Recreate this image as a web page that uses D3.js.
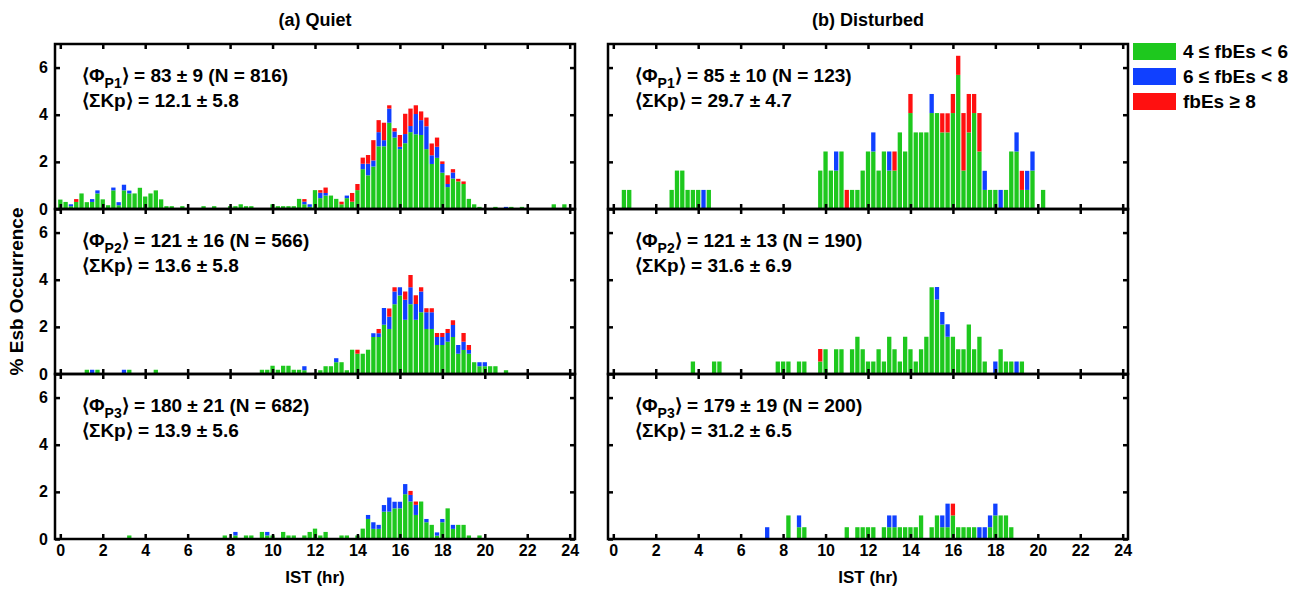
<!DOCTYPE html>
<html>
<head>
<meta charset="utf-8">
<script src="https://cdn.jsdelivr.net/npm/d3@7/dist/d3.min.js"></script>
<style>
  body { margin: 0; background: #fff; }
  text { font-family: "Liberation Sans", Arial, sans-serif; font-weight: bold; fill: #000; }
</style>
</head>
<body>
<svg id="chart" width="1294" height="590"></svg>
<script>
// 15-minute IST bins, % Esb occurrence, stacked by fbEs class
const bins = d3.range(0, 24, 0.25);
const xTickLabels = [0, 2, 4, 6, 8, 10, 12, 14, 16, 18, 20, 22, 24];
const yTickLabels = [0, 2, 4, 6];
const seriesKeys = ['low', 'mid', 'high'];
const legendLabels = ['4 \u2264 fbEs < 6', '6 \u2264 fbEs < 8', 'fbEs \u2265 8'];
const columnTitles = ['(a) Quiet', '(b) Disturbed'];

// Quiet, P1
const quietP1Green = [
  .4,.3,.12,.3,.66,.29,.3,.66,.41,.16,.79,.16,.79,.66,.66,.9,
  .53,.66,.79,.41,.12,.12,0,.12,0,0,0,.12,0,.12,0,0,
  .12,.12,.2,.12,.12,0,0,0,.2,.12,.12,.12,.12,.43,.2,.09,
  .8,.46,.57,.57,.43,.2,.46,.31,.8,1.69,1.43,1.8,2.66,2.66,3.66,3.03,
  2.54,2.79,3.26,3.17,3.14,2.54,1.91,2.17,1.54,.93,1.29,1.17,1.06,.43,.2,.09,
  0,0,.09,0,0,.09,0,.09,0,0,0,0,0,.2,0,.2
];
const quietP1Blue = [
  0,0,.08,0,0,0,.12,.13,0,0,.12,.13,.24,.12,0,0,
  0,0,0,0,0,0,0,0,0,0,0,0,0,0,0,0,
  0,0,0,0,0,0,0,0,0,0,0,0,0,0,.11,.11,
  0,.23,.11,0,0,0,.11,0,0,.23,.49,.26,.6,.26,.6,.26,
  .1,.39,.26,.86,.63,.97,.37,.47,.37,.13,.26,0,0,0,0,0,
  0,0,0,0,.09,0,0,0,0,0,0,0,0,0,0,0
];
const quietP1Red = [
  0,0,0,.12,0,0,0,0,0,0,0,0,0,0,0,0,
  0,0,0,0,0,0,0,0,0,0,0,0,0,0,0,0,
  0,0,0,0,0,0,0,0,0,0,0,0,0,0,.11,0,
  0,.11,.23,0,0,.11,0,.37,.26,.26,.37,.86,.51,.74,.14,.14,
  .5,.86,.74,.37,.37,.37,.5,.39,.11,.37,.14,.11,.11,0,0,0,
  0,0,0,0,0,0,0,0,0,0,0,0,0,0,0,0
];

// Quiet, P2
const quietP2Green = [
  0,0,0,0,0,.18,0,.18,0,0,0,0,0,.18,0,0,
  0,0,.18,0,0,0,0,0,0,0,0,0,0,0,0,0,
  0,0,0,0,0,0,.18,.18,.35,.18,.35,.35,.18,.18,.16,0,
  0,.16,.33,.33,.5,.5,.16,1.03,.86,.86,1.03,1.57,1.57,2.09,1.91,2.96,
  3.33,2.3,2.96,2.3,2.62,1.91,1.91,1.23,1.23,1.37,1.57,.86,1.02,.86,.5,.33,
  .33,.33,.33,0,.16,0,0,0,0,0,0,0,0,0,0,0
];
const quietP2Blue = [
  0,0,0,0,0,0,.18,0,0,0,0,0,.18,0,0,0,
  0,0,0,0,0,0,0,0,0,0,0,0,0,0,0,0,
  0,0,0,0,0,0,0,0,0,0,0,0,0,0,.17,0,
  0,0,0,0,.17,0,0,0,0,0,0,.16,.16,.71,.52,.54,
  .35,.85,.72,.67,.88,.71,.71,.34,.34,.37,.51,.37,.35,.16,0,.17,
  .17,0,0,0,0,0,0,0,0,0,0,0,0,0,0,0
];
const quietP2Red = [
  0,0,0,0,0,0,0,0,0,0,0,0,0,0,0,0,
  0,0,0,0,0,0,0,0,0,0,0,0,0,0,0,0,
  0,0,0,0,0,0,0,0,0,0,0,0,0,0,0,0,
  0,0,0,0,0,0,0,0,.17,0,0,0,.18,0,.35,.18,
  0,.35,.52,.37,.18,.17,.17,.17,.17,.17,.2,0,.37,.21,0,0,
  0,0,0,0,0,0,0,0,0,0,0,0,0,0,0,0
];

// Quiet, P3
const quietP3Green = [
  0,0,0,0,0,0,0,0,0,0,0,0,0,.15,0,0,
  0,0,0,0,0,0,0,0,0,0,0,0,0,0,0,.15,
  0,.15,0,.15,.15,0,.3,.15,.15,0,.3,.15,.15,0,.15,.3,
  .44,.15,.3,0,0,.15,.15,0,.15,.44,.85,.43,.43,1.16,1.16,1.3,
  1.3,1.9,1.59,1.02,1.59,.71,.6,.14,.71,1.3,.43,.6,.6,.15,0,.15,
  0,0,0,0,0,0,0,0,0,0,0,0,0,0,0,0
];
const quietP3Blue = [
  0,0,0,0,0,0,0,0,0,0,0,0,0,0,0,0,
  0,0,0,0,0,0,0,0,0,0,0,0,0,0,0,0,
  0,.15,0,0,0,0,0,.15,0,0,0,0,0,0,0,0,
  0,0,0,0,0,0,0,0,0,0,.17,.28,.17,.28,.6,.28,
  .28,.43,.28,.43,0,.14,0,.14,.14,0,.17,0,0,0,0,0,
  0,0,0,0,0,0,0,0,0,0,0,0,0,0,0,0
];
const quietP3Red = [
  0,0,0,0,0,0,0,0,0,0,0,0,0,0,0,0,
  0,0,0,0,0,0,0,0,0,0,0,0,0,0,0,0,
  0,0,0,0,0,0,0,0,0,0,0,0,0,0,0,0,
  0,0,0,0,0,0,0,0,0,0,0,0,0,0,0,0,
  0,0,.17,.14,0,0,0,0,0,0,0,0,0,0,0,0,
  0,0,0,0,0,0,0,0,0,0,0,0,0,0,0,0
];

// Disturbed, P1
const disturbedP1Green = [
  0,0,.81,.81,0,0,0,0,0,0,0,.81,1.63,1.63,.81,.81,
  .81,0,.81,0,0,0,0,0,0,0,0,0,0,0,0,0,
  0,0,0,0,0,0,0,1.63,2.44,1.63,1.63,2.44,0,.81,.81,1.63,
  2.44,2.44,1.63,2.44,1.63,1.63,3.25,2.44,4.07,3.25,3.25,3.25,4.07,4.07,3.25,3.25,
  4.07,5.69,1.63,3.25,4.07,2.44,.81,.81,.81,0,.81,2.44,2.44,.81,.81,1.63,
  0,.81,0,0,0,0,0,0,0,0,0,0,0,0,0,0
];
const disturbedP1Blue = [
  0,0,0,0,0,0,0,0,0,0,0,0,0,0,0,0,
  0,.81,0,0,0,0,0,0,0,0,0,0,0,0,0,0,
  0,0,0,0,0,0,0,0,0,0,.81,0,0,0,0,0,
  0,.81,0,0,.81,0,0,0,0,0,0,0,.81,0,0,0,
  0,0,0,0,0,0,.81,0,0,.81,0,0,.81,0,.81,.81,
  0,0,0,0,0,0,0,0,0,0,0,0,0,0,0,0
];
const disturbedP1Red = [
  0,0,0,0,0,0,0,0,0,0,0,0,0,0,0,0,
  0,0,0,0,0,0,0,0,0,0,0,0,0,0,0,0,
  0,0,0,0,0,0,0,0,0,0,0,0,.81,0,0,0,
  0,0,0,0,0,.81,0,0,.81,0,0,0,0,0,.81,.81,
  .81,.81,2.44,1.63,.81,1.63,0,0,0,0,0,0,0,.81,0,0,
  0,0,0,0,0,0,0,0,0,0,0,0,0,0,0,0
];

// Disturbed, P2
const disturbedP2Green = [
  0,0,0,0,0,0,0,0,0,0,0,0,0,0,0,.53,
  0,0,0,.53,.53,0,0,0,0,0,0,0,0,0,0,.53,
  .53,.53,0,.53,.53,0,0,.53,1.05,0,1.05,1.05,0,1.05,1.58,1.05,
  .53,.53,1.05,.53,1.58,1.05,.53,1.58,1.05,.53,1.05,1.58,3.68,3.16,2.1,1.58,
  1.58,1.05,1.05,2.1,1.05,1.58,.53,0,0,1.05,.53,.53,0,.53,0,0,
  0,0,0,0,0,0,0,0,0,0,0,0,0,0,0,0
];
const disturbedP2Blue = [
  0,0,0,0,0,0,0,0,0,0,0,0,0,0,0,0,
  0,0,0,0,0,0,0,0,0,0,0,0,0,0,0,0,
  0,0,0,0,0,0,0,0,0,0,0,0,0,0,0,0,
  0,0,0,0,0,0,0,0,0,0,0,0,0,.53,.53,.53,
  0,0,0,0,0,0,0,0,.53,0,0,0,.53,0,0,0,
  0,0,0,0,0,0,0,0,0,0,0,0,0,0,0,0
];
const disturbedP2Red = [
  0,0,0,0,0,0,0,0,0,0,0,0,0,0,0,0,
  0,0,0,0,0,0,0,0,0,0,0,0,0,0,0,0,
  0,0,0,0,0,0,0,.53,0,0,0,0,0,0,0,0,
  0,0,0,0,0,0,0,0,0,0,0,0,0,0,0,0,
  0,0,0,0,0,0,0,0,0,0,0,0,0,0,0,0,
  0,0,0,0,0,0,0,0,0,0,0,0,0,0,0,0
];

// Disturbed, P3
const disturbedP3Green = [
  0,0,0,0,0,0,0,0,0,0,0,0,0,0,0,0,
  0,0,0,0,0,0,0,0,0,0,0,0,0,0,0,0,
  0,1,0,.5,.5,0,0,0,0,0,0,0,.5,0,.5,.5,
  .5,.5,0,.5,.5,.5,.5,.5,.5,.5,1,0,.5,1,.5,.5,
  1,.5,.5,.5,.5,0,0,.5,1,1,1,.5,0,0,0,0,
  0,0,0,0,0,0,0,0,0,0,0,0,0,0,0,0
];
const disturbedP3Blue = [
  0,0,0,0,0,0,0,0,0,0,0,0,0,0,0,0,
  0,0,0,0,0,0,0,0,0,0,0,0,0,.5,0,0,
  0,0,0,.5,0,0,0,0,0,0,0,0,0,0,0,0,
  0,0,0,0,.5,.5,0,0,0,0,0,0,0,0,.5,1,
  0,0,0,0,0,.5,.5,.5,.5,0,0,0,0,0,0,0,
  0,0,0,0,0,0,0,0,0,0,0,0,0,0,0,0
];
const disturbedP3Red = [
  0,0,0,0,0,0,0,0,0,0,0,0,0,0,0,0,
  0,0,0,0,0,0,0,0,0,0,0,0,0,0,0,0,
  0,0,0,0,0,0,0,0,0,0,0,0,0,0,0,0,
  0,0,0,0,0,0,0,0,0,0,0,0,0,0,0,0,
  .5,0,0,0,0,0,0,0,0,0,0,0,0,0,0,0,
  0,0,0,0,0,0,0,0,0,0,0,0,0,0,0,0
];

// panel annotations
const phiSubscripts = ['P1', 'P2', 'P3'];
const quietPhiText = ['83 \u00b1 9 (N = 816)', '121 \u00b1 16 (N = 566)', '180 \u00b1 21 (N = 682)'];
const quietKpText = ['12.1 \u00b1 5.8', '13.6 \u00b1 5.8', '13.9 \u00b1 5.6'];
const disturbedPhiText = ['85 \u00b1 10 (N = 123)', '121 \u00b1 13 (N = 190)', '179 \u00b1 19 (N = 200)'];
const disturbedKpText = ['29.7 \u00b1 4.7', '31.6 \u00b1 6.9', '31.2 \u00b1 6.5'];

const colors = { low: '#1ec81e', mid: '#1040ff', high: '#ff1010' };

const colLeft = [55, 608];
const panelW = 520;
const rowTop = [44, 209, 374];
const panelH = 165;

const panels = [
  { col: 0, row: 0, g: quietP1Green, b: quietP1Blue, r: quietP1Red, phi: quietPhiText[0], kp: quietKpText[0] },
  { col: 0, row: 1, g: quietP2Green, b: quietP2Blue, r: quietP2Red, phi: quietPhiText[1], kp: quietKpText[1] },
  { col: 0, row: 2, g: quietP3Green, b: quietP3Blue, r: quietP3Red, phi: quietPhiText[2], kp: quietKpText[2] },
  { col: 1, row: 0, g: disturbedP1Green, b: disturbedP1Blue, r: disturbedP1Red, phi: disturbedPhiText[0], kp: disturbedKpText[0] },
  { col: 1, row: 1, g: disturbedP2Green, b: disturbedP2Blue, r: disturbedP2Red, phi: disturbedPhiText[1], kp: disturbedKpText[1] },
  { col: 1, row: 2, g: disturbedP3Green, b: disturbedP3Blue, r: disturbedP3Red, phi: disturbedPhiText[2], kp: disturbedKpText[2] }
];

const svg = d3.select('#chart');

function styleAxis(g) {
  g.select('.domain').remove();
  g.selectAll('.tick line').attr('stroke', '#000').attr('stroke-width', 2.5);
  g.selectAll('.tick text').attr('font-size', 16).attr('font-weight', 'bold')
    .attr('font-family', '"Liberation Sans", Arial, sans-serif').attr('fill', '#000');
}

panels.forEach(p => {
  const left = colLeft[p.col];
  const top = rowTop[p.row];
  const x = d3.scaleLinear().domain([-0.25, 24.25]).range([left, left + panelW]);
  const y = d3.scaleLinear().domain([0, 7]).range([top + panelH, top]);
  const step = x(0.25) - x(0);
  const barW = step - 1;

  const rows = bins.map((h, i) => ({ h: h, low: p.g[i], mid: p.b[i], high: p.r[i] }));
  const stacked = d3.stack().keys(seriesKeys)(rows);

  const panel = svg.append('g');

  panel.append('g')
    .selectAll('g')
    .data(stacked)
    .join('g')
    .attr('fill', d => colors[d.key])
    .selectAll('rect')
    .data(d => d.filter(v => v[1] - v[0] > 0))
    .join('rect')
    .attr('x', d => x(d.data.h) - barW / 2)
    .attr('width', barW)
    .attr('y', d => y(d[1]))
    .attr('height', d => y(d[0]) - y(d[1]));

  // inward ticks on all four sides
  panel.append('g').attr('transform', `translate(0,${top + panelH})`)
    .call(d3.axisTop(x).tickValues(xTickLabels).tickSize(5).tickFormat(''))
    .call(styleAxis);
  panel.append('g').attr('transform', `translate(0,${top})`)
    .call(d3.axisBottom(x).tickValues(xTickLabels).tickSize(5).tickFormat(''))
    .call(styleAxis);
  panel.append('g').attr('transform', `translate(${left},0)`)
    .call(d3.axisRight(y).tickValues(yTickLabels).tickSize(5).tickFormat(''))
    .call(styleAxis);
  panel.append('g').attr('transform', `translate(${left + panelW},0)`)
    .call(d3.axisLeft(y).tickValues(yTickLabels).tickSize(5).tickFormat(''))
    .call(styleAxis);

  if (p.col === 0) {
    panel.append('g').attr('transform', `translate(${left},0)`)
      .call(d3.axisLeft(y).tickValues(yTickLabels).tickSize(0).tickPadding(7).tickFormat(d3.format('d')))
      .call(styleAxis);
  }
  if (p.row === 2) {
    panel.append('g').attr('transform', `translate(0,${top + panelH})`)
      .call(d3.axisBottom(x).tickValues(xTickLabels).tickSize(0).tickPadding(6).tickFormat(d3.format('d')))
      .call(styleAxis);
  }

  panel.append('rect')
    .attr('x', left).attr('y', top)
    .attr('width', panelW).attr('height', panelH)
    .attr('fill', 'none').attr('stroke', '#000').attr('stroke-width', 2.5);

  // statistics text
  const tx = left + 27;
  const t1 = panel.append('text').attr('x', tx).attr('y', top + 38).attr('font-size', 19);
  t1.append('tspan').text('\u27e8\u03a6');
  t1.append('tspan').attr('font-size', 14).attr('dy', 6).text(phiSubscripts[p.row]);
  t1.append('tspan').attr('dy', -6).text('\u27e9 = ' + p.phi);
  panel.append('text').attr('x', tx).attr('y', top + 63).attr('font-size', 19)
    .text('\u27e8\u03a3Kp\u27e9 = ' + p.kp);
});

// column titles and axis labels
columnTitles.forEach((t, i) => {
  svg.append('text')
    .attr('x', colLeft[i] + panelW / 2).attr('y', 26)
    .attr('text-anchor', 'middle').attr('font-size', 18).text(t);
  svg.append('text')
    .attr('x', colLeft[i] + panelW / 2).attr('y', 583)
    .attr('text-anchor', 'middle').attr('font-size', 17).text('IST (hr)');
});

svg.append('text')
  .attr('transform', `translate(23,${rowTop[0] + 1.5 * panelH}) rotate(-90)`)
  .attr('text-anchor', 'middle').attr('font-size', 19)
  .text('% Esb Occurrence');

// legend
const legend = svg.append('g');
seriesKeys.forEach((k, i) => {
  legend.append('rect')
    .attr('x', 1133).attr('y', 43 + i * 25)
    .attr('width', 43).attr('height', 17)
    .attr('fill', colors[k]);
  legend.append('text')
    .attr('x', 1183).attr('y', 58 + i * 25)
    .attr('font-size', 19).text(legendLabels[i]);
});
</script>
</body>
</html>
